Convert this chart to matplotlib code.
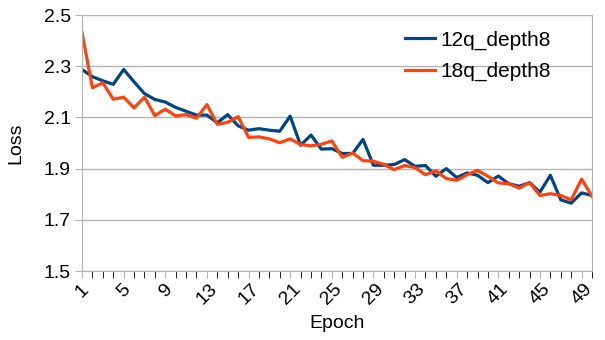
import matplotlib
matplotlib.use('Agg')
import matplotlib.pyplot as plt
import numpy as np

plt.rcParams['font.family'] = ['Liberation Sans', 'DejaVu Sans']

epochs = list(range(1, 51))
loss_12q = [2.287, 2.259, 2.243, 2.229, 2.287, 2.239, 2.193, 2.170, 2.160, 2.139,
            2.124, 2.109, 2.109, 2.079, 2.111, 2.067, 2.050, 2.056, 2.050, 2.046,
            2.105, 1.991, 2.031, 1.976, 1.978, 1.959, 1.959, 2.014, 1.913, 1.913,
            1.916, 1.935, 1.909, 1.912, 1.870, 1.900, 1.865, 1.883, 1.874, 1.845,
            1.871, 1.841, 1.831, 1.845, 1.808, 1.874, 1.778, 1.765, 1.805, 1.795]
loss_18q = [2.432, 2.216, 2.235, 2.171, 2.179, 2.137, 2.179, 2.107, 2.132, 2.106,
            2.111, 2.097, 2.150, 2.073, 2.081, 2.103, 2.022, 2.024, 2.016, 2.001,
            2.016, 1.994, 1.989, 1.995, 2.008, 1.944, 1.961, 1.931, 1.929, 1.916,
            1.896, 1.912, 1.904, 1.876, 1.891, 1.861, 1.854, 1.876, 1.893, 1.870,
            1.844, 1.841, 1.824, 1.845, 1.795, 1.802, 1.795, 1.778, 1.859, 1.792]
labels = ['12q_depth8', '18q_depth8']
yticks = [1.5, 1.7, 1.9, 2.1, 2.3, 2.5]

grey = '#b3b3b3'
fig = plt.figure(figsize=(6.05, 3.40), dpi=100)
ax = fig.add_axes([82/605, 1-271/340, 510/605, 256/340])

ax.plot(epochs, loss_12q, color='#004586', lw=2.3, label=labels[0])
ax.plot(epochs, loss_18q, color='#ff420e', lw=2.3, label=labels[1])

ax.set_xlim(1, 50)
ax.set_ylim(1.5, 2.5)
ax.set_yticks(yticks)
ax.set_yticklabels([f'{v:.1f}' for v in yticks])
ax.set_xticks(epochs, minor=True)
ax.set_xticks(epochs[::4])
ax.set_xticklabels([str(e) for e in epochs[::4]], rotation=45, ha='center', va='top')
ax.tick_params(axis='both', labelsize=14, color=grey)
ax.tick_params(axis='x', which='both', length=5, pad=2)
ax.tick_params(axis='y', length=5, pad=3)
ax.grid(axis='y', color=grey, lw=1)
ax.set_axisbelow(True)
for s in ['left', 'bottom', 'right']:
    ax.spines[s].set_color(grey)
ax.spines['top'].set_visible(False)

ax.set_xlabel('Epoch', fontsize=14, labelpad=5)
ax.set_ylabel('Loss', fontsize=14, labelpad=14)
ax.legend(loc='upper left', bbox_to_anchor=(0.633, 0.94), frameon=False, fontsize=15,
          handlelength=1.45, handletextpad=0.25, labelspacing=0.6,
          borderpad=0, borderaxespad=0)

fig.savefig('out.png', dpi=100)
